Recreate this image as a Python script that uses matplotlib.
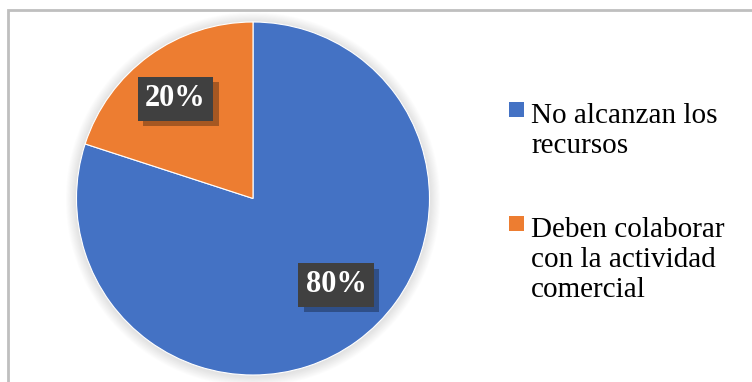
import matplotlib

matplotlib.use("Agg")
import matplotlib.pyplot as plt
import matplotlib.patheffects as pe
from matplotlib.patches import Circle, Rectangle

plt.rcParams["font.family"] = ["Liberation Serif", "DejaVu Serif"]

labels = ["No alcanzan los\nrecursos", "Deben colaborar\ncon la actividad\ncomercial"]
values = [80, 20]
colors = ["#4472C4", "#ED7D31"]

W, H = 752, 382
fig = plt.figure(figsize=(W / 100, H / 100), dpi=100)

# thin grey frame along the top and left edges
fig.patches.append(
    Rectangle((8 / W, -0.1), 1.2, (H - 10) / H + 0.1, transform=fig.transFigure,
              fill=False, ec="#BFBFBF", lw=2)
)

# pie axes: centre (253, 198.5) px, radius 176.5 px
cx, cy, r = 253, 198.5, 176.5
ax = fig.add_axes([(cx - r) / W, (H - cy - r) / H, 2 * r / W, 2 * r / H])

# soft halo behind the pie
for k in range(10):
    ax.add_patch(Circle((0, -0.005), 1.0 + 0.006 * (k + 1), fc="#808080", ec="none",
                        alpha=0.02, clip_on=False, zorder=0))

wedges, _, autotexts = ax.pie(
    values,
    colors=colors,
    startangle=90,
    counterclock=False,
    radius=1.0,
    autopct="%1.0f%%",
    pctdistance=0.70,
    wedgeprops=dict(edgecolor="white", linewidth=0.8),
    textprops=dict(color="white", fontsize=22, fontweight="bold"),
)
ax.set_xlim(-1, 1)
ax.set_ylim(-1, 1)
ax.axis("off")

# the large label sits a bit off its mid angle
autotexts[0].set_position((0.47, -0.49))
autotexts[1].set_position((-0.44, 0.565))

for t in autotexts:
    t.set_bbox(dict(boxstyle="square,pad=0.24", fc="#404040", ec="none"))
    t.get_bbox_patch().set_path_effects(
        [pe.SimplePatchShadow(offset=(4, -4), shadow_rgbFace="black", alpha=0.3), pe.Normal()]
    )

# legend drawn by hand so the swatch sits on the first line of each entry
rows = [103, 217]
for top, lab, col in zip(rows, labels, colors):
    fig.patches.append(
        Rectangle((509 / W, (H - top - 14) / H), 15 / W, 15 / H,
                  transform=fig.transFigure, fc=col, ec="none")
    )
    fig.text(531 / W, (H - top) / H, lab, fontsize=21, va="top", ha="left",
             color="black", linespacing=1.2)

fig.savefig("out.png", dpi=100)
